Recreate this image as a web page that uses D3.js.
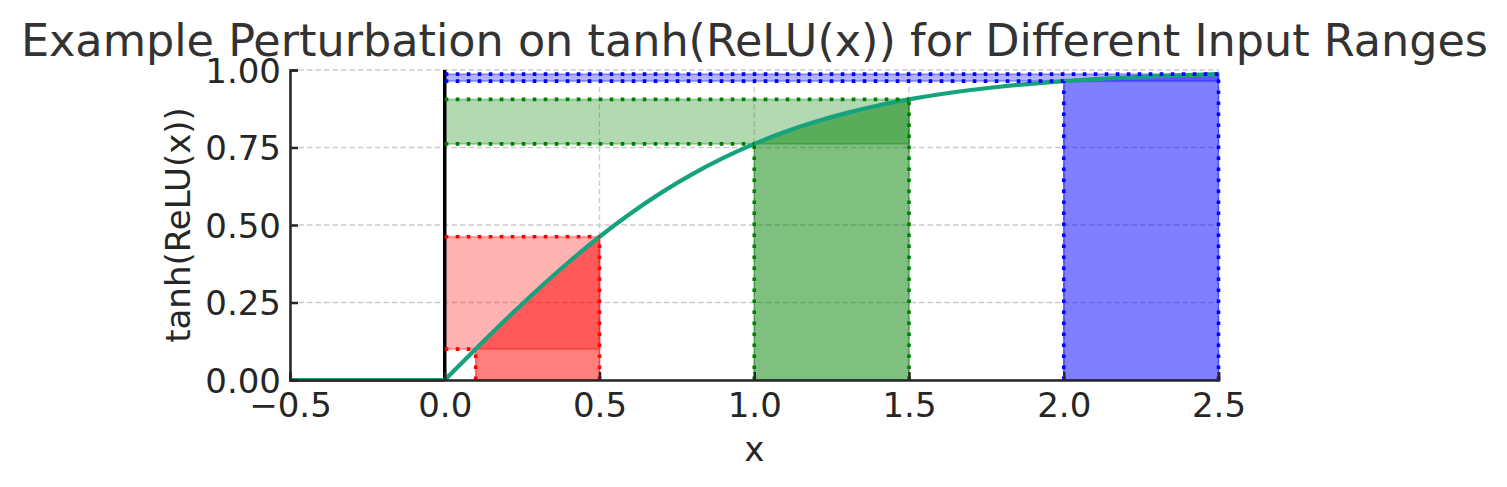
<!DOCTYPE html>
<html>
<head>
<meta charset="utf-8">
<script src="https://cdn.jsdelivr.net/npm/d3@7"></script>
<style>
  html, body { margin: 0; padding: 0; background: #ffffff; }
  svg { display: block; }
  text { font-family: "DejaVu Sans", sans-serif; }
</style>
</head>
<body>
<svg id="chart" width="1507" height="487"></svg>
<script>
// ---- data ----
const curveX = [-0.5, 0.0, 0.1, 0.2, 0.3, 0.4, 0.5, 0.6, 0.7, 0.8, 0.9, 1.0, 1.1, 1.2, 1.3, 1.4, 1.5,
                1.6, 1.7, 1.8, 1.9, 2.0, 2.1, 2.2, 2.3, 2.4, 2.5];
const curveY = [0.0, 0.0, 0.0997, 0.1974, 0.2913, 0.3799, 0.4621, 0.5370, 0.6044, 0.6640, 0.7163,
                0.7616, 0.8005, 0.8337, 0.8617, 0.8854, 0.9051, 0.9217, 0.9354, 0.9468, 0.9562,
                0.9640, 0.9705, 0.9757, 0.9801, 0.9837, 0.9866];
const rangeStart = [0.1, 1.0, 2.0];
const rangeEnd = [0.5, 1.5, 2.5];
const rangeColors = ["#ff0000", "#008000", "#0000ff"];
const xTicks = [-0.5, 0.0, 0.5, 1.0, 1.5, 2.0, 2.5];
const yTicks = [0.0, 0.25, 0.5, 0.75, 1.0];
const titleText = "Example Perturbation on tanh(ReLU(x)) for Different Input Ranges";
const xLabel = "x";
const yLabel = "tanh(ReLU(x))";

(function () {
// ---- layout ----
const svg = d3.select("#chart");
const pLeft = 290, pRight = 1218.5, pTop = 70, pBottom = 380;
const x = d3.scaleLinear().domain([-0.5, 2.5]).range([pLeft, pRight]);
const y = d3.scaleLinear().domain([0, 1]).range([pBottom, pTop]);

const pts = curveX.map((v, i) => ({x: v, y: curveY[i]}));
const yAt = v => {
  const i = curveX.findIndex(c => Math.abs(c - v) < 1e-9);
  return curveY[i];
};

// grid
const grid = svg.append("g");
grid.selectAll("line.gx").data(xTicks).enter().append("line")
  .attr("x1", d => x(d)).attr("x2", d => x(d)).attr("y1", pTop).attr("y2", pBottom)
  .attr("stroke", "#cccccc").attr("stroke-width", 1.3).attr("stroke-dasharray", "5.5,3");
grid.selectAll("line.gy").data(yTicks).enter().append("line")
  .attr("y1", d => y(d)).attr("y2", d => y(d)).attr("x1", pLeft).attr("x2", pRight)
  .attr("stroke", "#cccccc").attr("stroke-width", 1.3).attr("stroke-dasharray", "5.5,3");

// horizontal bands (from x=0 to end, between f(start) and f(end))
const bands = svg.append("g");
rangeStart.forEach((s, i) => {
  const e = rangeEnd[i];
  const y0 = yAt(s), y1 = yAt(e);
  bands.append("rect")
    .attr("x", x(0)).attr("width", x(e) - x(0))
    .attr("y", y(y1)).attr("height", y(y0) - y(y1))
    .attr("fill", rangeColors[i]).attr("fill-opacity", 0.3)
    .attr("stroke", rangeColors[i]).attr("stroke-opacity", 0.3).attr("stroke-width", 2);
});

// fills under curve between start and end
const area = d3.area().x(d => x(d.x)).y0(y(0)).y1(d => y(d.y)).curve(d3.curveMonotoneX);
rangeStart.forEach((s, i) => {
  const e = rangeEnd[i];
  const sub = pts.filter(p => p.x >= s - 1e-9 && p.x <= e + 1e-9);
  svg.append("path").datum(sub).attr("d", area)
    .attr("fill", rangeColors[i]).attr("fill-opacity", 0.5)
    .attr("stroke", rangeColors[i]).attr("stroke-opacity", 0.5).attr("stroke-width", 1.5);
});

// black vertical line at x=0
svg.append("line")
  .attr("x1", x(0)).attr("x2", x(0)).attr("y1", y(0)).attr("y2", y(1))
  .attr("stroke", "#000000").attr("stroke-width", 3.5);

// curve: flat part (linear) and positive part (smooth)
const lineLin = d3.line().x(d => x(d.x)).y(d => y(d.y));
const lineSmooth = d3.line().x(d => x(d.x)).y(d => y(d.y)).curve(d3.curveMonotoneX);
const neg = pts.filter(p => p.x <= 0);
const pos = pts.filter(p => p.x >= 0);
const curveG = svg.append("g").attr("fill", "none").attr("stroke", "#17a27e")
  .attr("stroke-width", 4.2).attr("stroke-linejoin", "round").attr("stroke-linecap", "butt");
curveG.append("path").datum(neg).attr("d", lineLin);
curveG.append("path").datum(pos).attr("d", lineSmooth);

// dotted drop lines
const dots = svg.append("g");
rangeStart.forEach((s, i) => {
  [s, rangeEnd[i]].forEach(v => {
    const fv = yAt(v);
    dots.append("line")
      .attr("x1", x(0)).attr("x2", x(v)).attr("y1", y(fv)).attr("y2", y(fv))
      .attr("stroke", rangeColors[i]).attr("stroke-width", 3.6).attr("stroke-dasharray", "3.6,7.4");
    dots.append("line")
      .attr("x1", x(v)).attr("x2", x(v)).attr("y1", y(0)).attr("y2", y(fv))
      .attr("stroke", rangeColors[i]).attr("stroke-width", 3.6).attr("stroke-dasharray", "3.6,7.4");
  });
});

// axes
const fmtX = d3.format(".1f");
const fmtY = d3.format(".2f");
const xAxis = d3.axisBottom(x).tickValues(xTicks).tickFormat(fmtX).tickSize(-8).tickPadding(11);
const yAxis = d3.axisLeft(y).tickValues(yTicks).tickFormat(fmtY).tickSize(-8).tickPadding(9);

const gx = svg.append("g").attr("transform", `translate(0,${pBottom})`).call(xAxis);
const gy = svg.append("g").attr("transform", `translate(${pLeft},0)`).call(yAxis);
[gx, gy].forEach(g => {
  g.select(".domain").attr("stroke", "#262626").attr("stroke-width", 2.5);
  g.selectAll(".tick line").attr("stroke", "#262626").attr("stroke-width", 2.5);
  g.selectAll(".tick text").attr("fill", "#262626").style("font-size", "34px")
    .style("font-family", "'DejaVu Sans', sans-serif");
});
gx.selectAll(".tick text").attr("dy", "0.76em");
gy.selectAll(".tick text").attr("dy", "0.36em");

// labels
svg.append("text").attr("x", (pLeft + pRight) / 2).attr("y", 461)
  .attr("text-anchor", "middle").attr("fill", "#262626").style("font-size", "34px").text(xLabel);
svg.append("text").attr("transform", `translate(190,${(pTop + pBottom) / 2}) rotate(-90)`)
  .attr("text-anchor", "middle").attr("fill", "#262626").style("font-size", "34px").text(yLabel);

// title
svg.append("text").attr("x", 754.5).attr("y", 56)
  .attr("text-anchor", "middle").attr("fill", "#333333").style("font-size", "44.5px").text(titleText);
})();
</script>
</body>
</html>
